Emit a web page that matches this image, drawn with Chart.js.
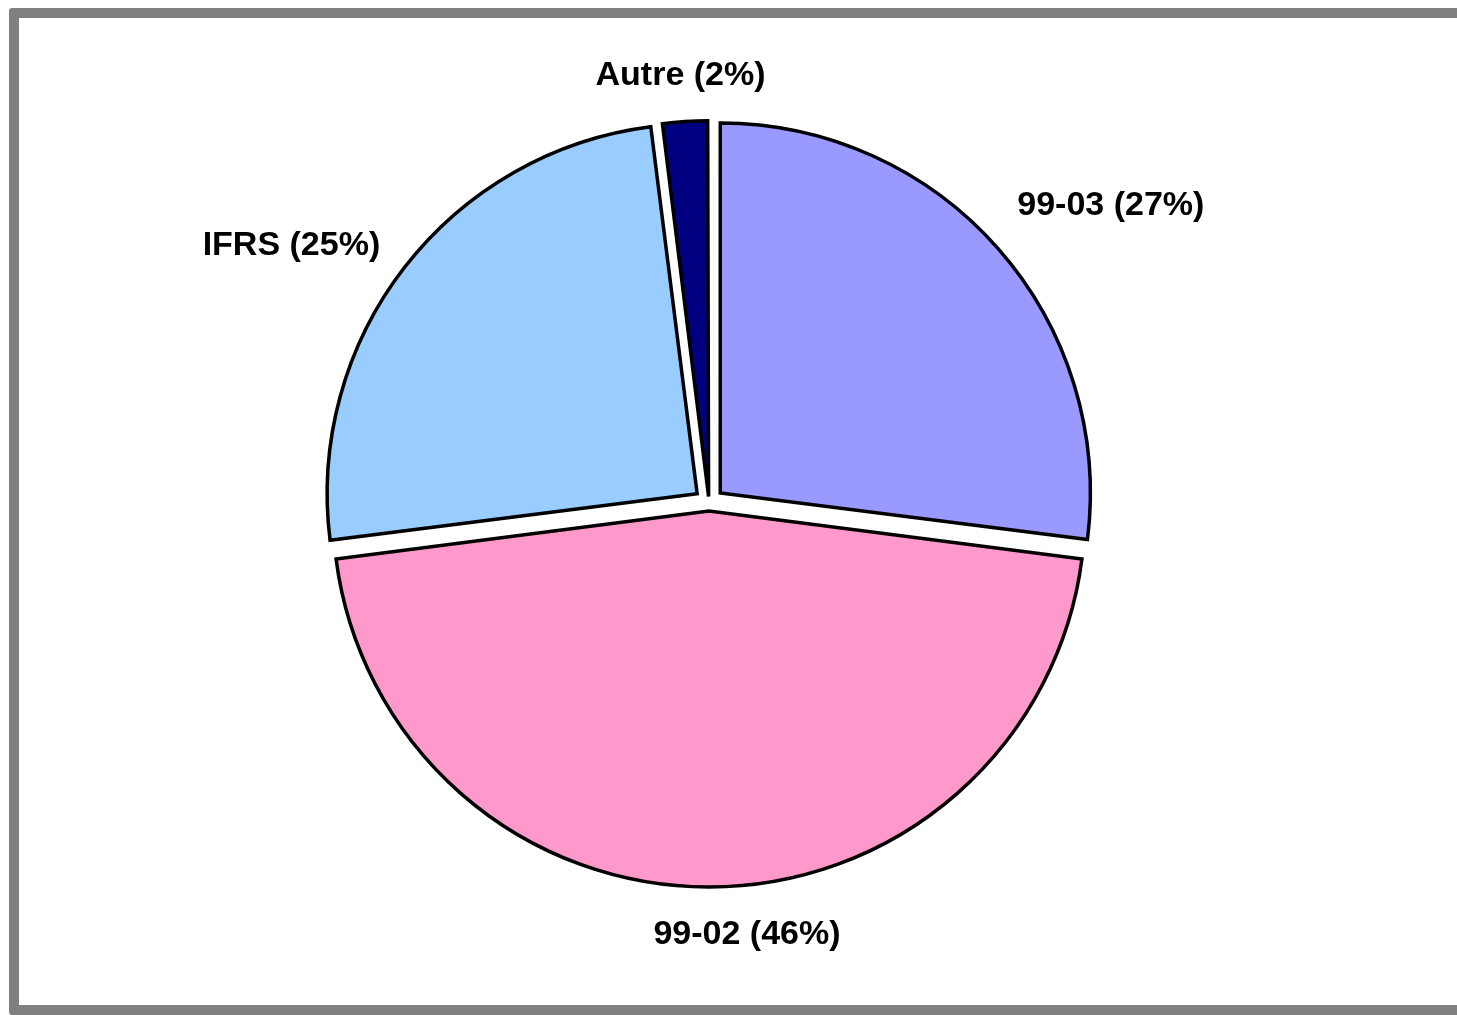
<!DOCTYPE html>
<html>
<head>
<meta charset="utf-8">
<script src="https://cdn.jsdelivr.net/npm/chart.js@4"></script>
<style>
html, body { margin:0; padding:0; background:#ffffff; overflow:hidden; width:1457px; height:1015px; }
#frame { position:absolute; left:9px; top:8px; width:1520px; height:987px; border:10px solid #808080; border-radius:3px; }
#wrap { position:absolute; left:0; top:0; width:1457px; height:1015px; }
</style>
</head>
<body>
<div id="frame"></div>
<div id="wrap"><canvas id="c"></canvas></div>
<script>
// ---- data ----
const categories = ['99-03', '99-02', 'IFRS', 'Autre'];
const shares = [27, 46, 25, 2];
const sliceLabels = categories.map((c, i) => `${c} (${shares[i]}%)`);

// ---- label plugin: text outside each slice ----
const outsideLabels = {
  id: 'outsideLabels',
  afterDatasetsDraw(chart, args, opts) {
    const ctx = chart.ctx;
    const meta = chart.getDatasetMeta(0);
    ctx.save();
    ctx.font = opts.font;
    ctx.fillStyle = '#000000';
    ctx.textAlign = 'center';
    ctx.textBaseline = 'middle';
    meta.data.forEach((arc, i) => {
      const p = arc.getProps(['x', 'y', 'startAngle', 'endAngle', 'outerRadius'], true);
      const mid = (p.startAngle + p.endAngle) / 2;
      const R = p.outerRadius + opts.distance;
      const ax = p.x + Math.cos(mid) * R;
      const ay = p.y + Math.sin(mid) * R;
      const text = chart.data.labels[i];
      const w = ctx.measureText(text).width;
      const h = opts.boxHeight;
      const sx = Math.max(-1, Math.min(1, Math.cos(mid) * 2));
      const sy = Math.max(-1, Math.min(1, Math.sin(mid) * 2));
      const n = (opts.nudge && opts.nudge[i]) || [0, 0];
      ctx.fillText(text, ax + sx * w / 2 + n[0], ay + sy * h / 2 + n[1]);
    });
    ctx.restore();
  }
};

new Chart(document.getElementById('c'), {
  type: 'pie',
  data: {
    labels: sliceLabels,
    datasets: [{
      data: shares,
      backgroundColor: ['#9999FF', '#FF99CC', '#99CCFF', '#000080'],
      borderColor: '#000000',
      borderWidth: 3.5,
      hoverBorderWidth: 3.5,
      borderJoinStyle: 'miter',
      offset: [60, 32, 60, 26],
      hoverOffset: 0
    }]
  },
  options: {
    responsive: true,
    maintainAspectRatio: false,
    animation: false,
    events: [],
    radius: 370,
    rotation: 0,
    layout: { padding: { left: 0, right: 39, top: 0, bottom: 9 } },
    plugins: {
      legend: { display: false },
      tooltip: { enabled: false },
      outsideLabels: {
        font: 'bold 34px "Liberation Sans", Arial, sans-serif',
        distance: 41,
        boxHeight: 37,
        nudge: [[0, -7], [38, 2], [-4, 13], [8, 1]]
      }
    }
  },
  plugins: [outsideLabels]
});
</script>
</body>
</html>
